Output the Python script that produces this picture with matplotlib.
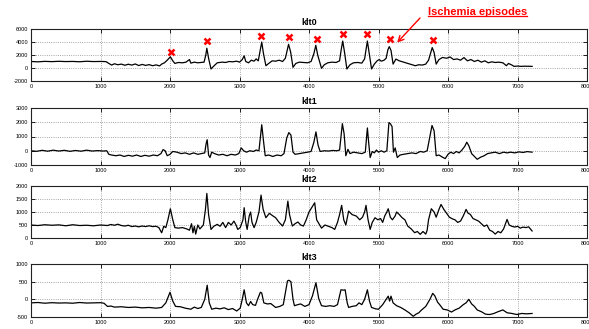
import matplotlib
matplotlib.use("Agg")
import matplotlib.pyplot as plt
from matplotlib.lines import Line2D

plt.rcParams['font.family'] = ['Liberation Sans', 'DejaVu Sans']

# ---------------- data ----------------
klt0_x = [0, 100, 200, 300, 400, 500, 600, 700, 800, 900, 1000, 1080, 1120, 1160, 1200, 1250, 1300, 1350,
          1400, 1450, 1500, 1550, 1600, 1650, 1700, 1750, 1800, 1850, 1880, 1920, 1960, 2005, 2040, 2070,
          2120, 2180, 2230, 2280, 2300, 2350, 2400, 2450, 2490, 2515, 2530, 2555, 2590, 2630, 2680, 2750,
          2800, 2850, 2900, 2960, 3000, 3040, 3067, 3090, 3130, 3170, 3210, 3240, 3270, 3300, 3320, 3345,
          3380, 3420, 3470, 3520, 3570, 3620, 3660, 3706, 3735, 3770, 3810, 3860, 3920, 3980, 4030, 4070,
          4098, 4125, 4180, 4220, 4270, 4330, 4390, 4440, 4460, 4485, 4510, 4545, 4590, 4640, 4700, 4760,
          4800, 4840, 4870, 4900, 4940, 4980, 5010, 5040, 5080, 5110, 5135, 5155, 5180, 5210, 5250, 5300,
          5360, 5420, 5480, 5530, 5580, 5630, 5680, 5720, 5773, 5800, 5830, 5870, 5920, 5980, 6030, 6080,
          6130, 6180, 6230, 6280, 6330, 6380, 6430, 6480, 6530, 6580, 6630, 6680, 6730, 6790, 6840, 6870,
          6920, 6950, 7000, 7050, 7100, 7150, 7210]
klt0_y = [1000, 950, 1020, 980, 1030, 990, 1010, 960, 1040, 990, 1010, 980, 700, 450, 650, 500, 600, 420,
          580, 450, 620, 380, 550, 400, 520, 350, 480, 320, 600, 800, 1200, 1720, 1100, 700,
          850, 800, 900, 1300, 750, 900, 800, 850, 900, 2000, 3040, 1500, -150, 300, 800, 900,
          850, 1000, 950, 1050, 900, 1300, 1870, 1000, 800, 1200, 1050, 1400, 1100, 2800, 4000, 2200,
          350, 700, 1100, 1050, 1200, 1000, 1500, 3650, 2500, 100, 700, 900, 850, 800, 1000, 2200,
          3490, 2000, -50, 500, 800, 900, 850, 1100, 2600, 4150, 2500, -150, 500, 800, 850, 750,
          1400, 4150, 2000, -150, 600, 1100, 1300, 1050, 1200, 1500, 2800, 3290, 2700, 600, 1370, 1100,
          900, 700, 500, 350, 500, 450, 600, 1200, 3140, 2400, 600, 1300, 1620, 1500, 1700, 1300,
          1400, 1200, 1600, 1100, 1300, 1000, 1200, 900, 1100, 800, 950, 850, 900, 800, 350, 700,
          450, 250, 300, 250, 280, 260, 250]

klt1_x = [0, 80, 160, 240, 320, 400, 480, 560, 640, 720, 800, 880, 960, 1040, 1090, 1120, 1160, 1220,
          1280, 1340, 1400, 1460, 1520, 1580, 1640, 1700, 1760, 1820, 1870, 1900, 1930, 1960, 2000, 2040,
          2100, 2160, 2220, 2280, 2340, 2400, 2450, 2500, 2520, 2535, 2555, 2575, 2600, 2640, 2700, 2760,
          2820, 2880, 2940, 2990, 3025, 3060, 3100, 3150, 3200, 3240, 3280, 3300, 3320, 3345, 3370, 3420,
          3480, 3540, 3600, 3640, 3680, 3710, 3740, 3770, 3800, 3860, 3920, 3980, 4030, 4070, 4100, 4130,
          4160, 4220, 4280, 4340, 4400, 4440, 4460, 4480, 4505, 4530, 4560, 4590, 4640, 4700, 4760, 4810,
          4840, 4860, 4880, 4910, 4940, 4970, 5000, 5040, 5080, 5120, 5150, 5170, 5195, 5215, 5240, 5270,
          5310, 5360, 5420, 5480, 5540, 5600, 5650, 5700, 5740, 5770, 5800, 5830, 5870, 5920, 5960, 6000,
          6040, 6080, 6120, 6160, 6200, 6240, 6270, 6300, 6340, 6380, 6420, 6470, 6520, 6570, 6620, 6680,
          6740, 6800, 6850, 6900, 6960, 7020, 7080, 7140, 7210]
klt1_y = [0, -40, 30, -30, 40, -20, 30, -40, 20, -30, 40, -20, 10, -20, 0, -250, -300, -350,
          -300, -400, -320, -380, -300, -400, -320, -380, -300, -350, -200, 80, 0, -350, -250, -50,
          -100, -200, -150, -250, -150, -250, -200, -150, 500, 775, -300, -475, -100, -200, -300, -250,
          -350, -250, -300, -200, 200, 0, -100, 0, -50, 50, 0, 900, 1825, 700, -350, -300,
          -400, -300, -350, -200, 900, 1275, 1100, -100, -250, -200, -150, -100, -50, 600, 1325, 400,
          -50, 0, -20, 20, 0, 50, 1000, 1900, 1200, -350, 100, -200, -100, -150, -200, -100,
          1600, 500, -475, -50, -150, 50, -100, 0, -100, 0, 1975, 1900, 1700, -100, 200, -475,
          -300, -250, -200, -150, -200, -50, -100, 0, 1000, 1775, 1400, -350, -300, -450, -550, -250,
          -100, -200, -50, -150, 50, 300, 600, 350, -200, -400, -600, -450, -350, -200, -150, -100,
          -200, -100, -150, -100, -150, -80, -120, -60, -100]

klt2_x = [0, 100, 200, 300, 400, 500, 600, 700, 800, 900, 1000, 1100, 1150, 1200, 1250, 1300, 1350, 1400,
          1450, 1500, 1550, 1600, 1650, 1700, 1750, 1800, 1840, 1880, 1910, 1940, 1970, 2005, 2040, 2070,
          2120, 2180, 2240, 2280, 2310, 2330, 2350, 2370, 2400, 2430, 2480, 2510, 2530, 2555, 2590, 2630,
          2680, 2720, 2760, 2800, 2840, 2880, 2920, 2950, 2975, 3010, 3050, 3067, 3090, 3110, 3140, 3160,
          3180, 3210, 3240, 3280, 3310, 3340, 3380, 3430, 3480, 3520, 3570, 3620, 3660, 3696, 3720, 3760,
          3800, 3840, 3880, 3920, 3960, 4000, 4082, 4110, 4180, 4230, 4280, 4330, 4370, 4410, 4440, 4470,
          4500, 4530, 4570, 4620, 4680, 4730, 4770, 4800, 4820, 4850, 4880, 4910, 4950, 4990, 5030, 5060,
          5090, 5120, 5140, 5170, 5200, 5240, 5260, 5300, 5340, 5380, 5420, 5470, 5520, 5560, 5600, 5640,
          5680, 5700, 5720, 5760, 5800, 5830, 5870, 5900, 5940, 5980, 6020, 6060, 6100, 6140, 6180, 6220,
          6260, 6290, 6320, 6360, 6400, 6440, 6480, 6520, 6560, 6600, 6640, 6680, 6720, 6760, 6800, 6850,
          6880, 6920, 6960, 7000, 7040, 7080, 7120, 7160, 7210]
klt2_y = [500, 480, 510, 490, 505, 470, 510, 480, 490, 470, 500, 480, 520, 490, 530, 480, 460, 490,
          440, 460, 430, 460, 440, 470, 440, 450, 400, 200, 450, 400, 700, 1125, 700, 400,
          380, 400, 350, 300, 550, 200, 450, 150, 500, 350, 500, 1100, 1715, 900, 330, 450,
          525, 450, 600, 400, 600, 500, 650, 500, 330, 400, 700, 1165, 600, 330, 850, 1000,
          600, 400, 600, 1000, 1650, 1100, 780, 950, 850, 780, 600, 460, 700, 1420, 900, 460,
          550, 615, 500, 460, 700, 1000, 1355, 700, 380, 500, 450, 400, 330, 600, 900, 1255,
          700, 500, 1035, 900, 845, 700, 800, 1000, 1255, 700, 330, 600, 780, 700, 750, 600,
          850, 1000, 1125, 800, 700, 850, 1000, 900, 780, 700, 460, 350, 205, 250, 140, 250,
          150, 300, 700, 1125, 1000, 800, 1100, 1290, 1100, 950, 800, 740, 700, 600, 650, 850,
          1100, 950, 910, 750, 700, 650, 550, 450, 500, 300, 250, 150, 250, 200, 350, 715,
          500, 450, 420, 450, 380, 420, 400, 430, 270]

klt3_x = [0, 100, 200, 300, 400, 500, 600, 700, 800, 900, 1000, 1050, 1100, 1150, 1200, 1300, 1400, 1500,
          1600, 1700, 1800, 1880, 1940, 2000, 2040, 2080, 2150, 2220, 2300, 2350, 2400, 2450, 2500, 2535,
          2565, 2600, 2660, 2720, 2780, 2840, 2900, 2960, 3010, 3040, 3067, 3100, 3130, 3160, 3190, 3230,
          3260, 3300, 3320, 3350, 3400, 3450, 3520, 3580, 3630, 3670, 3690, 3710, 3740, 3770, 3790, 3840,
          3880, 3940, 4000, 4050, 4100, 4140, 4180, 4240, 4300, 4360, 4410, 4440, 4460, 4500, 4520, 4550,
          4570, 4620, 4680, 4720, 4760, 4800, 4840, 4870, 4900, 4960, 5000, 5060, 5110, 5140, 5160, 5180,
          5210, 5260, 5320, 5380, 5440, 5500, 5540, 5580, 5620, 5680, 5740, 5780, 5810, 5850, 5880, 5930,
          5990, 6050, 6100, 6160, 6220, 6260, 6300, 6340, 6380, 6420, 6480, 6540, 6600, 6660, 6720, 6790,
          6850, 6920, 6990, 7060, 7130, 7210]
klt3_y = [-100, -90, -110, -95, -105, -100, -110, -90, -105, -100, -95, -110, -200, -190, -220, -210, -230, -220,
          -240, -230, -250, -230, -100, 200, -50, -200, -210, -250, -280, -220, -260, -230, 0, 400,
          -100, -280, -250, -270, -240, -290, -260, -330, -250, 0, 270, -100, -180, -60, -150, -170,
          0, 200, 180, -100, -130, -120, -230, -200, -150, 300, 520, 540, 500, 0, -180, -150,
          -130, -200, -150, 100, 470, 20, -180, -200, -180, -200, -150, 100, 270, 260, 270, -100,
          -230, -200, -180, -100, -150, 0, 270, -50, -230, -270, -280, -150, 0, 90, -50, 90,
          -100, -180, -230, -300, -380, -480, -420, -380, -300, -200, 0, 170, 100, -80, -150, -280,
          -300, -360, -300, -250, -150, -100, 0, -130, -200, -300, -350, -420, -430, -400, -350, -300,
          -380, -400, -430, -400, -410, -400]

episode_x = [2010, 2536, 3309, 3711, 4108, 4495, 4830, 5165, 5784]
episode_y = [2530, 4150, 4910, 4760, 4500, 5160, 5215, 4400, 4300]

titles = ['klt0', 'klt1', 'klt2', 'klt3']
x_ticks = [0, 1000, 2000, 3000, 4000, 5000, 6000, 7000, 8000]
y_ticks = [[-2000, 0, 2000, 4000, 6000],
           [-1000, 0, 1000, 2000, 3000],
           [0, 500, 1000, 1500, 2000],
           [-500, 0, 500, 1000]]
annotation_text = 'Ischemia episodes'

# ---------------- layout ----------------
W, H = 589, 329
fig = plt.figure(figsize=(W / 100, H / 100), dpi=100)
fig.patch.set_facecolor('white')

# (top_px, bottom_px) of each axes box
boxes = [(29, 81), (108, 165), (186, 238), (264, 317)]
left_px, right_px = 31, 587

series = [(klt0_x, klt0_y), (klt1_x, klt1_y), (klt2_x, klt2_y), (klt3_x, klt3_y)]
axes = []
for i, ((top, bot), (xs, ys)) in enumerate(zip(boxes, series)):
    ax = fig.add_axes([left_px / W, 1 - bot / H, (right_px - left_px) / W, (bot - top) / H])
    ax.plot(xs, ys, color='black', lw=0.9)
    ax.set_xlim(0, 8000)
    ax.set_ylim(y_ticks[i][0], y_ticks[i][-1])
    ax.set_xticks(x_ticks)
    ax.set_yticks(y_ticks[i])
    ax.set_xticklabels([str(t) for t in x_ticks])
    ax.set_yticklabels([str(t) for t in y_ticks[i]])
    ax.tick_params(direction='in', length=3, width=0.6, labelsize=4, pad=2,
                   top=True, right=True, colors='black')
    ax.grid(True, linestyle=':', color='#888888', lw=0.6)
    for s in ax.spines.values():
        s.set_linewidth(0.8)
        s.set_color('#222222')
    ax.set_title(titles[i], fontsize=6.5, fontweight='bold', pad=3)
    axes.append(ax)

ax0 = axes[0]
ax0.plot(episode_x, episode_y, linestyle='none', marker='x', color='red',
         markersize=5, markeredgewidth=1.8, zorder=5)

# label text (figure coordinates), underline, and arrow to the episode
tx, ty = 428 / W, 1 - 17 / H
label = fig.text(tx, ty, annotation_text, color='red', fontsize=8,
                 fontweight='bold', ha='left', va='bottom')
fig.canvas.draw()
bb = label.get_window_extent().transformed(fig.transFigure.inverted())
uy = bb.y0 + 0.003
fig.add_artist(Line2D([bb.x0, bb.x1], [uy, uy], transform=fig.transFigure,
                      color='red', lw=0.9))
ax0.annotate('', xy=(5268, 3900), xycoords='data',
             xytext=(bb.x0 - 8 / W, uy - 2 / H), textcoords='figure fraction',
             annotation_clip=False,
             arrowprops=dict(arrowstyle='->', color='red', lw=1.0,
                             shrinkA=0, shrinkB=0))

fig.savefig('out.png', dpi=100)
